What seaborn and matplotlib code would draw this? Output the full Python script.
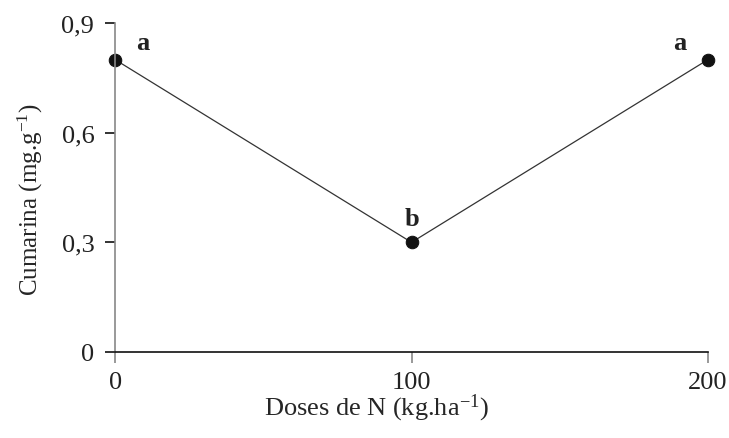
import matplotlib
matplotlib.use("Agg")
import matplotlib.pyplot as plt
import seaborn as sns
import pandas as pd

doses = [0, 100, 200]
cumarina = [0.8, 0.3, 0.8]
letters = ["a", "b", "a"]
yticks = [0, 0.3, 0.6, 0.9]
ytick_labels = ["0", "0,3", "0,6", "0,9"]
xticks = [0, 100, 200]

sns.set_theme(style="white")
plt.rcParams["font.family"] = ["Liberation Serif", "DejaVu Serif"]
plt.rcParams["mathtext.fontset"] = "custom"
plt.rcParams["mathtext.rm"] = "Liberation Serif"
plt.rcParams["mathtext.it"] = "Liberation Serif:italic"

FS = 19
df = pd.DataFrame({"dose": doses, "cum": cumarina})
fig = plt.figure(figsize=(7.29, 4.39), dpi=100)
ax = fig.add_axes([0.158, 0.196, 0.813, 0.749])
sns.lineplot(data=df, x="dose", y="cum", ax=ax, color="#333333", linewidth=0.9,
             marker="o", markersize=9, markeredgecolor="#111111",
             markerfacecolor="#111111", clip_on=False)

offsets = [(20, 4), (0, 9), (-20, 4)]
for xv, yv, l, (dx, dy) in zip(doses, cumarina, letters, offsets):
    ax.annotate(l, (xv, yv), xytext=(dx, dy), textcoords="offset points",
                ha="center", va="bottom", fontsize=FS, fontweight="bold", color="#222222")

ax.set_xlim(0, 200)
ax.set_ylim(0, 0.9)
ax.set_xticks(xticks)
ax.set_xticklabels([str(v) for v in xticks], fontsize=FS)
ax.set_yticks(yticks)
ax.set_yticklabels(ytick_labels, fontsize=FS)
ax.set_xlabel("Doses de N (kg.ha$^{\\mathrm{-1}}$)", fontsize=FS, labelpad=0)
ax.set_ylabel("Cumarina (mg.g$^{\\mathrm{-1}}$)", fontsize=18, labelpad=12)
ax.xaxis.set_label_coords(0.44, -0.12)
ax.yaxis.set_label_coords(-0.118, 0.465)
for s in ["top", "right"]:
    ax.spines[s].set_visible(False)
ax.spines["left"].set_color("#888888")
ax.spines["bottom"].set_color("#111111")
ax.spines["left"].set_linewidth(1.2)
ax.spines["bottom"].set_linewidth(1.2)
ax.tick_params(axis="y", direction="out", length=7, width=1.2, left=True, pad=8, labelcolor="#222222", color="#111111")
ax.tick_params(axis="x", direction="out", length=8, width=1.2, bottom=True, pad=6, labelcolor="#222222", color="#888888")

fig.savefig("out.png", dpi=100)
